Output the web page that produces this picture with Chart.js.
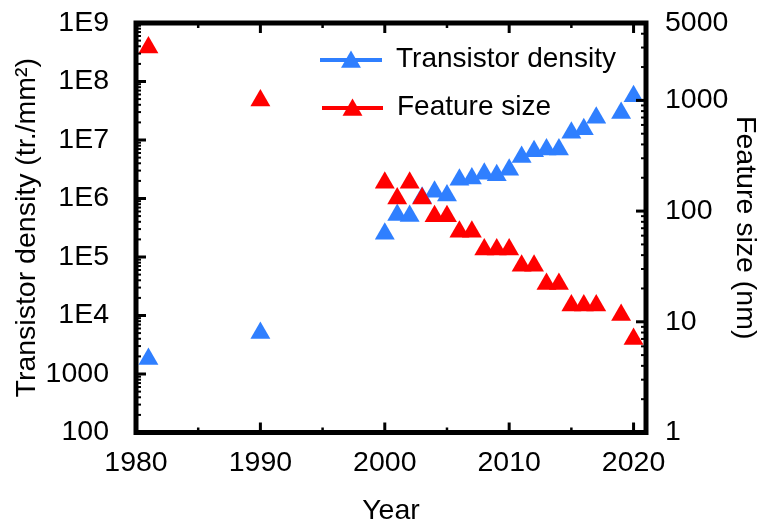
<!DOCTYPE html>
<html>
<head>
<meta charset="utf-8">
<script src="https://cdn.jsdelivr.net/npm/chart.js@4/dist/chart.umd.min.js"></script>
<style>
  html, body { margin: 0; padding: 0; background: #fff; }
  #c { display: block; }
</style>
</head>
<body>
<canvas id="c" width="763" height="525"></canvas>
<script>
// Transistor density (tr./mm²) by year
const densityYears = [1981, 1990, 2000, 2001, 2002, 2003, 2004, 2005, 2006, 2007, 2008, 2009, 2010, 2011, 2012, 2013, 2014, 2015, 2016, 2017, 2019, 2020];
const densityValues = [1800, 5000, 2.5e5, 5.2e5, 5.0e5, 1.03e6, 1.3e6, 1.13e6, 2.1e6, 2.2e6, 2.65e6, 2.5e6, 3.1e6, 5.1e6, 6.4e6, 6.9e6, 6.9e6, 1.33e7, 1.52e7, 2.4e7, 2.9e7, 5.6e7];

// Feature size (nm) by year
const featureYears = [1981, 1990, 2000, 2001, 2002, 2003, 2004, 2005, 2006, 2007, 2008, 2009, 2010, 2011, 2012, 2013, 2014, 2015, 2016, 2017, 2019, 2020];
const featureValues = [3000, 1000, 180, 130, 180, 130, 90, 90, 65, 65, 45, 45, 45, 32, 32, 22, 22, 14, 14, 14, 11.5, 7];

// Axis ticks
const yearTicks = [1980, 1990, 2000, 2010, 2020];
const yearMinorTicks = [1985, 1995, 2005, 2015];
const densityTicks = [100, 1000, 1e4, 1e5, 1e6, 1e7, 1e8, 1e9];
const densityTickLabels = ['100', '1000', '1E4', '1E5', '1E6', '1E7', '1E8', '1E9'];
const featureTicks = [1, 10, 100, 1000, 5000];
const featureTickLabels = ['1', '10', '100', '1000', '5000'];

const BLUE = '#2f7fff';
const RED = '#ff0000';
const FONT = "'Liberation Sans', Arial, sans-serif";

// Box frame with inward major/minor tick marks, plus a line+marker legend
const framePlugin = {
  id: 'frame',
  afterDraw(chart) {
    const { ctx, chartArea: a, scales } = chart;
    const x = scales.x, yl = scales.y, yr = scales.y2;
    const MAJ = 10, MIN = 5;
    ctx.save();
    ctx.strokeStyle = '#000';
    ctx.lineCap = 'butt';

    const tick = (x1, y1, x2, y2, w) => {
      ctx.lineWidth = w;
      ctx.beginPath(); ctx.moveTo(x1, y1); ctx.lineTo(x2, y2); ctx.stroke();
    };

    // bottom & top year ticks
    yearTicks.forEach(v => {
      const px = x.getPixelForValue(v);
      tick(px, a.bottom, px, a.bottom - MAJ, 3);
      tick(px, a.top, px, a.top + MAJ, 3);
    });
    yearMinorTicks.forEach(v => {
      const px = x.getPixelForValue(v);
      tick(px, a.bottom, px, a.bottom - MIN, 2.5);
      tick(px, a.top, px, a.top + MIN, 2.5);
    });

    // left log ticks
    densityTicks.forEach(d => {
      const py = yl.getPixelForValue(d);
      tick(a.left, py, a.left + MAJ, py, 3);
      if (d < 1e9) {
        for (let m = 2; m <= 9; m++) {
          const p = yl.getPixelForValue(d * m);
          tick(a.left, p, a.left + MIN, p, 2);
        }
      }
    });

    // right log ticks
    [1, 10, 100, 1000].forEach(d => {
      const py = yr.getPixelForValue(d);
      tick(a.right, py, a.right - MAJ, py, 3);
      for (let m = 2; m <= 9; m++) {
        const v = d * m;
        if (v >= 5000) break;
        const p = yr.getPixelForValue(v);
        tick(a.right, p, a.right - MIN, p, 2);
      }
    });

    // frame
    ctx.lineWidth = 5;
    ctx.lineJoin = 'miter';
    ctx.strokeRect(a.left, a.top, a.right - a.left, a.bottom - a.top);

    // legend
    const items = [
      { ds: chart.data.datasets[0], y: 60, x0: 320, x1: 382 },
      { ds: chart.data.datasets[1], y: 108, x0: 322, x1: 383 }
    ];
    items.forEach(it => {
      const col = it.ds.backgroundColor;
      ctx.strokeStyle = col;
      ctx.lineWidth = 4;
      ctx.beginPath(); ctx.moveTo(it.x0, it.y); ctx.lineTo(it.x1, it.y); ctx.stroke();
      const cx = (it.x0 + it.x1) / 2, cy = it.y + 2, r = 11.5;
      ctx.fillStyle = col;
      ctx.beginPath();
      for (let k = 0; k < 3; k++) {
        const ang = k * 2 * Math.PI / 3;
        const px = cx + Math.sin(ang) * r, py = cy - Math.cos(ang) * r;
        if (k === 0) ctx.moveTo(px, py); else ctx.lineTo(px, py);
      }
      ctx.closePath(); ctx.fill();
      ctx.fillStyle = '#000';
      ctx.font = '28px ' + FONT;
      ctx.textBaseline = 'middle';
      ctx.textAlign = 'left';
      ctx.fillText(it.ds.label, it.x1 + 14, it.y - 1);
    });
    ctx.restore();
  }
};

const tickFont = { family: FONT, size: 28.5 };
const titleFont = { family: FONT, size: 28.5 };

// keep the plot box fixed: no extra room for overhanging tick labels
const noPad = s => { s.paddingTop = 0; s.paddingBottom = 0; s.paddingLeft = 0; s.paddingRight = 0; };

new Chart(document.getElementById('c'), {
  type: 'scatter',
  data: {
    datasets: [
      {
        label: 'Transistor density',
        data: densityYears.map((yr, i) => ({ x: yr, y: densityValues[i] })),
        yAxisID: 'y',
        pointStyle: 'triangle',
        pointRadius: 11.5,
        pointHoverRadius: 11.5,
        backgroundColor: BLUE,
        borderColor: BLUE,
        borderWidth: 0,
        order: 1
      },
      {
        label: 'Feature size',
        data: featureYears.map((yr, i) => ({ x: yr, y: featureValues[i] })),
        yAxisID: 'y2',
        pointStyle: 'triangle',
        pointRadius: 11.5,
        pointHoverRadius: 11.5,
        backgroundColor: RED,
        borderColor: RED,
        borderWidth: 0,
        order: 0
      }
    ]
  },
  options: {
    responsive: false,
    animation: false,
    layout: { padding: { top: 23, left: 0, right: 0, bottom: 0 } },
    plugins: { legend: { display: false }, tooltip: { enabled: false } },
    scales: {
      x: {
        type: 'linear',
        position: 'bottom',
        min: 1980,
        max: 2021,
        afterBuildTicks: s => { s.ticks = yearTicks.map(v => ({ value: v })); },
        afterFit: s => { s.height = 92.5; noPad(s); },
        grid: { display: false, drawTicks: false },
        border: { display: false },
        ticks: { font: tickFont, color: '#000', padding: 14, maxRotation: 0, autoSkip: false, callback: v => String(v) },
        title: { display: true, text: 'Year', font: { family: FONT, size: 28.5, lineHeight: 1 }, color: '#000', padding: 0 }
      },
      y: {
        type: 'logarithmic',
        position: 'left',
        min: 100,
        max: 1e9,
        afterBuildTicks: s => { s.ticks = densityTicks.map(v => ({ value: v })); },
        afterFit: s => { s.width = 136; noPad(s); },
        grid: { display: false, drawTicks: false },
        border: { display: false },
        ticks: { font: tickFont, color: '#000', padding: 27, autoSkip: false, callback: v => densityTickLabels[densityTicks.indexOf(v)] },
        title: { display: true, text: 'Transistor density (tr./mm\u00b2)', font: titleFont, color: '#000', padding: { top: 10, bottom: 0 } }
      },
      y2: {
        type: 'logarithmic',
        position: 'right',
        min: 1,
        max: 5000,
        afterBuildTicks: s => { s.ticks = featureTicks.map(v => ({ value: v })); },
        afterFit: s => { s.width = 117; noPad(s); },
        grid: { display: false, drawTicks: false },
        border: { display: false },
        ticks: { font: tickFont, color: '#000', padding: 19, autoSkip: false, callback: v => featureTickLabels[featureTicks.indexOf(v)] },
        title: { display: true, text: 'Feature size (nm)', font: titleFont, color: '#000', padding: { top: 1, bottom: 0 } }
      }
    }
  },
  plugins: [framePlugin]
});
</script>
</body>
</html>
